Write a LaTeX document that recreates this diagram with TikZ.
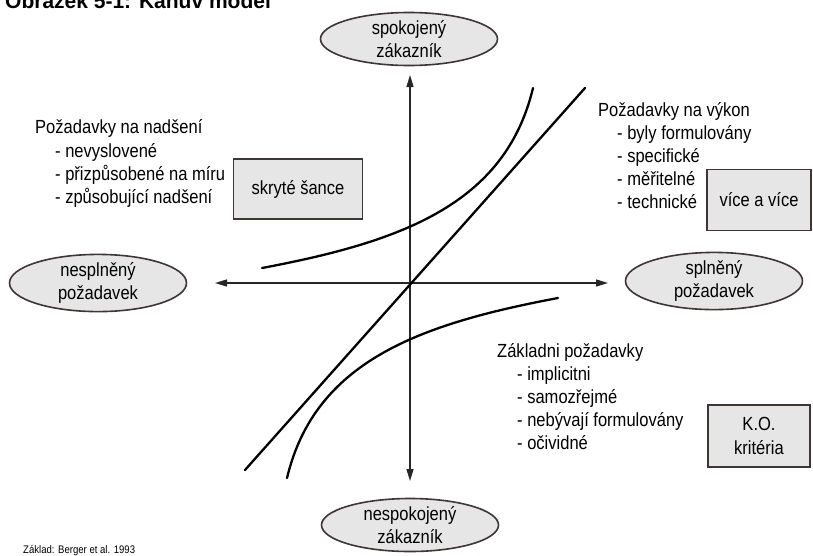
\documentclass[tikz,border=0pt]{standalone}
\usepackage{fontspec}
\setmainfont{Liberation Sans}[FakeStretch=0.87]
\newfontfamily\plainsans{Liberation Sans}
\usetikzlibrary{shapes.geometric,arrows.meta}
\definecolor{edge}{HTML}{3E3636}
\definecolor{fillgray}{HTML}{E6E6E6}
\begin{document}
\begin{tikzpicture}[x=1pt,y=-1pt,
  oval/.style={ellipse, draw=edge, line width=1.6pt, fill=fillgray, minimum width=177pt, minimum height=53pt, inner sep=0pt, align=center, font=\fontsize{19}{22.5}\selectfont},
  rbox/.style={rectangle, draw=edge, line width=1.6pt, fill=fillgray, inner sep=0pt, align=center, font=\fontsize{19}{24}\selectfont},
  txt/.style={anchor=base west, inner sep=0pt, font=\fontsize{19}{22}\selectfont},
  axisline/.style={line width=1.4pt, draw=black!85, {Triangle[length=12pt,width=7pt]}-{Triangle[length=12pt,width=7pt]}},
  curveline/.style={line width=2.3pt, line cap=round}]
\useasboundingbox (0,0) rectangle (813,555);
% title (cut at top)
\node[anchor=base west, inner sep=0pt, font=\plainsans\fontsize{21}{25}\selectfont\bfseries] (title) at (5,8) {Obrázek 5-1: Kanův model};
% ellipses
\node[oval] (top) at (409,39) {spokojený\\zákazník};
\node[oval] (bottom) at (410,525) {nespokojený\\zákazník};
\node[oval] (left) at (98,283) {nesplněný\\požadavek};
\node[oval] (right) at (714,281) {splněný\\požadavek};
% boxes
\node[rbox, minimum width=129pt, minimum height=60pt] (skryte) at (298,189) {skryté šance};
\node[rbox, minimum width=104pt, minimum height=61pt] (vice) at (759,200) {více a více};
\node[rbox, minimum width=102pt, minimum height=62pt] (ko) at (759,436) {K.O.\\kritéria};
% axes
\coordinate (O) at (410,283);
\coordinate (axL) at (215,283);
\coordinate (axR) at (608,283);
\coordinate (axT) at (410,75);
\coordinate (axB) at (410,481);
\draw[axisline] (axL) -- (axR);
\draw[axisline] (axB) -- (axT);
% performance line
\coordinate (d1) at (245,470);
\coordinate (d2) at (585,88);
\draw[curveline] (d1) -- (d2);
% excitement curve
\coordinate (e1) at (262,268);
\coordinate (e2) at (533,88);
\draw[curveline] (e1) .. controls (400,242) and (505,205) .. (e2);
% must-be curve
\coordinate (m1) at (558,298);
\coordinate (m2) at (287,478);
\draw[curveline] (m1) .. controls (420,324) and (315,361) .. (m2);
% left text block
\node[txt] (n0) at (35,133) {Požadavky na nadšení};
\node[txt] (n1) at (55,157) {- nevyslovené};
\node[txt] (n2) at (55,180) {- přizpůsobené na míru};
\node[txt] (n3) at (55,203) {- způsobující nadšení};
% right text block
\node[txt] (v0) at (598,116) {Požadavky na výkon};
\node[txt] (v1) at (617,139) {- byly formulovány};
\node[txt] (v2) at (617,162) {- specifické};
\node[txt] (v3) at (617,185) {- měřitelné};
\node[txt] (v4) at (617,208) {- technické};
% bottom text block
\node[txt] (z0) at (497,357) {Základni požadavky};
\node[txt] (z1) at (517,380) {- implicitni};
\node[txt] (z2) at (517,403) {- samozřejmé};
\node[txt] (z3) at (517,426) {- nebývají formulovány};
\node[txt] (z4) at (517,449) {- očividné};
% source
\node[anchor=base west, inner sep=0pt, font=\fontsize{11}{12}\selectfont] (src) at (23,553) {Základ: Berger et al. 1993};
\end{tikzpicture}
\end{document}
